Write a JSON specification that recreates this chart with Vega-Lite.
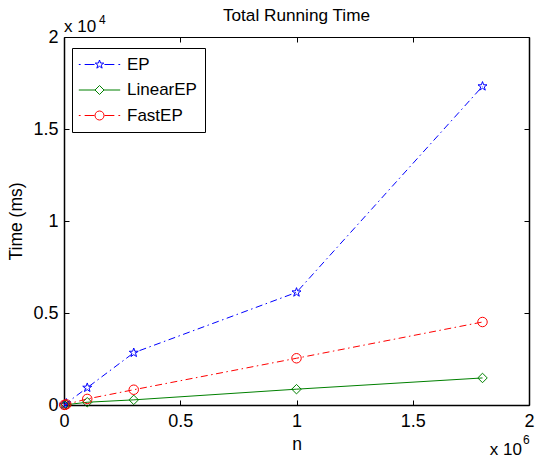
{
  "$schema": "https://vega.github.io/schema/vega-lite/v6.json",
  "autosize": {"type": "none"},
  "padding": {"left": 64, "top": 37, "right": 6, "bottom": 56},
  "width": 465,
  "height": 368,
  "background": "white",
  "title": {"text": "Total Running Time", "font": "Liberation Sans", "fontSize": 17.2, "fontWeight": "normal", "color": "black", "offset": -10},
  "config": {
    "view": {"stroke": null},
    "font": "Liberation Sans",
    "axis": {"grid": false, "domainColor": "black", "domainWidth": 1.5, "tickColor": "black", "tickWidth": 1, "labelColor": "black", "titleColor": "black", "labelFont": "Liberation Sans", "titleFont": "Liberation Sans", "labelFontSize": 18, "titleFontSize": 17.5, "titleFontWeight": "normal", "labelFlush": false, "labelOverlap": false}
  },
  "data": {"values": [
    {"series": "EP", "n": 1000, "time": 10},
    {"series": "EP", "n": 10000, "time": 95},
    {"series": "EP", "n": 100000, "time": 940},
    {"series": "EP", "n": 300000, "time": 2840},
    {"series": "EP", "n": 1000000, "time": 6120},
    {"series": "EP", "n": 1800000, "time": 17320},
    {"series": "LinearEP", "n": 1000, "time": 2},
    {"series": "LinearEP", "n": 10000, "time": 15},
    {"series": "LinearEP", "n": 100000, "time": 150},
    {"series": "LinearEP", "n": 300000, "time": 280},
    {"series": "LinearEP", "n": 1000000, "time": 860},
    {"series": "LinearEP", "n": 1800000, "time": 1470},
    {"series": "FastEP", "n": 1000, "time": 5},
    {"series": "FastEP", "n": 10000, "time": 35},
    {"series": "FastEP", "n": 100000, "time": 330},
    {"series": "FastEP", "n": 300000, "time": 830},
    {"series": "FastEP", "n": 1000000, "time": 2540},
    {"series": "FastEP", "n": 1800000, "time": 4510}
  ]},
  "layer": [
    {
      "encoding": {
        "x": {"field": "n", "type": "quantitative", "scale": {"domain": [0, 2000000], "nice": false, "zero": false},
              "axis": {"orient": "bottom", "values": [0, 500000, 1000000, 1500000, 2000000], "labelExpr": "datum.value / 1000000", "tickSize": -5, "labelPadding": 12, "title": "n", "titlePadding": 5}},
        "y": {"field": "time", "type": "quantitative", "scale": {"domain": [0, 20000], "nice": false, "zero": false},
              "axis": {"orient": "left", "values": [0, 5000, 10000, 15000, 20000], "labelExpr": "datum.value / 10000", "tickSize": -5, "labelPadding": 11, "title": "Time (ms)", "titlePadding": 7}}
      },
      "layer": [
        {"transform": [{"filter": "datum.series === 'EP'"}], "mark": {"type": "line", "color": "#0000ff", "strokeWidth": 1, "strokeDash": [7, 3.5, 1.5, 3.5]}},
        {"transform": [{"filter": "datum.series === 'LinearEP'"}], "mark": {"type": "line", "color": "#008000", "strokeWidth": 1}},
        {"transform": [{"filter": "datum.series === 'FastEP'"}], "mark": {"type": "line", "color": "#ff0000", "strokeWidth": 1, "strokeDash": [7, 3.5, 1.5, 3.5]}},
        {"transform": [{"filter": "datum.series === 'EP'"}], "mark": {"type": "point", "filled": false, "stroke": "#0000ff", "strokeWidth": 1, "size": 90, "opacity": 1,
          "shape": "M0,-1L0.235,-0.324L0.951,-0.309L0.380,0.124L0.588,0.809L0,0.4L-0.588,0.809L-0.380,0.124L-0.951,-0.309L-0.235,-0.324Z"}},
        {"transform": [{"filter": "datum.series === 'LinearEP'"}], "mark": {"type": "point", "filled": false, "stroke": "#008000", "strokeWidth": 1, "size": 90, "opacity": 1,
          "shape": "M0,-1L1,0L0,1L-1,0Z"}},
        {"transform": [{"filter": "datum.series === 'FastEP'"}], "mark": {"type": "point", "filled": false, "stroke": "#ff0000", "strokeWidth": 1, "size": 90, "opacity": 1,
          "shape": "M1,0A1,1,0,1,1,-1,0A1,1,0,1,1,1,0Z"}}
      ]
    },
    {
      "transform": [{"filter": "false"}],
      "mark": {"type": "point", "filled": false, "strokeWidth": 1, "size": 81, "opacity": 1},
      "encoding": {
        "x": {"field": "n", "type": "quantitative", "scale": {"domain": [0, 2000000], "nice": false, "zero": false},
              "axis": {"orient": "top", "values": [0, 500000, 1000000, 1500000, 2000000], "labels": false, "tickSize": -5, "title": null, "domainWidth": 1}},
        "y": {"field": "time", "type": "quantitative", "scale": {"domain": [0, 20000], "nice": false, "zero": false},
              "axis": {"orient": "right", "values": [0, 5000, 10000, 15000, 20000], "labels": false, "tickSize": -5, "title": null}},
        "color": {"field": "series", "type": "nominal",
                  "scale": {"domain": ["EP", "LinearEP", "FastEP"], "range": ["#0000ff", "#008000", "#ff0000"]},
                  "legend": {"title": null, "orient": "none", "legendX": 8, "legendY": 11, "strokeColor": "black", "fillColor": "white", "padding": 8, "labelFont": "Liberation Sans", "labelFontSize": 17, "labelColor": "black", "symbolSize": 81, "symbolStrokeWidth": 1, "symbolOffset": 11, "labelOffset": 19, "rowPadding": 7.5}},
        "shape": {"field": "series", "type": "nominal",
                  "scale": {"domain": ["EP", "LinearEP", "FastEP"], "range": [
                    "M-4.6,0L-4.2,0M-3.3,0L-1.1,0M1.1,0L3.3,0M4.2,0L4.6,0M0,-1L0.235,-0.324L0.951,-0.309L0.380,0.124L0.588,0.809L0,0.4L-0.588,0.809L-0.380,0.124L-0.951,-0.309L-0.235,-0.324Z",
                    "M-4.6,0L-1,0M1,0L4.6,0M0,-1L1,0L0,1L-1,0Z",
                    "M-4.6,0L-4.2,0M-3.3,0L-1.1,0M1.1,0L3.3,0M4.2,0L4.6,0M1,0A1,1,0,1,1,-1,0A1,1,0,1,1,1,0Z"
                  ]},
                  "legend": {"title": null, "orient": "none", "legendX": 8, "legendY": 11, "strokeColor": "black", "fillColor": "white", "padding": 8, "labelFont": "Liberation Sans", "labelFontSize": 17, "labelColor": "black", "symbolSize": 81, "symbolStrokeWidth": 1, "symbolOffset": 11, "labelOffset": 19, "rowPadding": 7.5}}
      }
    },
    {
      "data": {"values": [{}]},
      "mark": {"type": "text", "text": "x 10", "align": "left", "baseline": "alphabetic", "fontSize": 17, "font": "Liberation Sans", "color": "black", "dy": -5},
      "encoding": {"x": {"datum": 0, "type": "quantitative", "axis": null}, "y": {"datum": 20000, "type": "quantitative", "axis": null}}
    },
    {
      "data": {"values": [{}]},
      "mark": {"type": "text", "text": "4", "align": "left", "baseline": "alphabetic", "fontSize": 12, "font": "Liberation Sans", "color": "black", "dx": 35, "dy": -13},
      "encoding": {"x": {"datum": 0, "type": "quantitative", "axis": null}, "y": {"datum": 20000, "type": "quantitative", "axis": null}}
    },
    {
      "data": {"values": [{}]},
      "mark": {"type": "text", "text": "x 10", "align": "right", "baseline": "alphabetic", "fontSize": 17, "font": "Liberation Sans", "color": "black", "dx": -7, "dy": 50},
      "encoding": {"x": {"datum": 2000000, "type": "quantitative", "axis": null}, "y": {"datum": 0, "type": "quantitative", "axis": null}}
    },
    {
      "data": {"values": [{}]},
      "mark": {"type": "text", "text": "6", "align": "left", "baseline": "alphabetic", "fontSize": 12, "font": "Liberation Sans", "color": "black", "dx": -6, "dy": 39},
      "encoding": {"x": {"datum": 2000000, "type": "quantitative", "axis": null}, "y": {"datum": 0, "type": "quantitative", "axis": null}}
    }
  ],
  "resolve": {"axis": {"x": "independent", "y": "independent"}}
}
